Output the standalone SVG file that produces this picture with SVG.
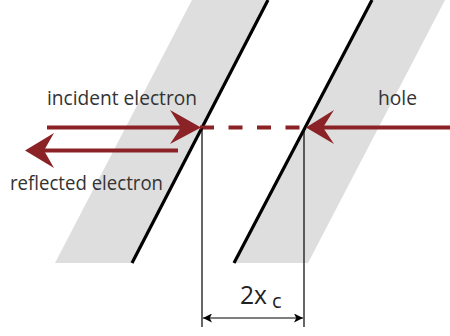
<svg xmlns="http://www.w3.org/2000/svg" width="450" height="336" viewBox="0 0 450 336">
<defs>
<style>
.band{fill:#dedede;stroke:none}
.edge{stroke:#000;stroke-width:3.2;fill:none}
.red{stroke:#8b2326;stroke-width:4;fill:none}
.head{fill:#8b2326;stroke:none}
.thin{stroke:#000;stroke-width:1.2;fill:none}
.lbl{font-family:"Open Sans","Liberation Sans",sans-serif;font-size:19.5px;fill:#333}
.dim{font-family:"Open Sans","Liberation Sans",sans-serif;fill:#222}
</style>
<marker id="dimhead" viewBox="0 0 10 10" refX="10" refY="5" markerWidth="9" markerHeight="9" markerUnits="userSpaceOnUse" orient="auto-start-reverse">
<path d="M0,0 L10,5 L0,10 L2.5,5 Z" fill="#000"/>
</marker>
</defs>
<g id="left-band">
<polygon class="band" points="192,0 268,0 132,263 55,263"/>
<line class="edge" x1="268" y1="0" x2="132" y2="263"/>
</g>
<g id="right-band">
<polygon class="band" points="372,0 445,0 308,263 234,263"/>
<line class="edge" x1="372" y1="0" x2="234" y2="263"/>
</g>
<g id="connectors">
<line class="red" x1="47" y1="127.5" x2="190" y2="127.5"/>
<path class="head" d="M201,127.5 L170,110 L181,127.5 L170,144 Z"/>
<line class="red" x1="200" y1="127.5" x2="307" y2="127.5" stroke-dasharray="14 14.5"/>
<line class="red" x1="320" y1="127.5" x2="450" y2="127.5"/>
<path class="head" d="M306,127.5 L334,110 L323,127.5 L334,144 Z"/>
<line class="red" x1="36" y1="150.5" x2="178" y2="150.5"/>
<path class="head" d="M25,150.5 L54,133 L44,150.5 L54,168 Z"/>
<line class="thin" x1="202" y1="128" x2="202" y2="327"/>
<line class="thin" x1="304" y1="128" x2="304" y2="327"/>
<line class="thin" x1="203" y1="318" x2="303" y2="318" marker-start="url(#dimhead)" marker-end="url(#dimhead)"/>
</g>
<g id="labels">
<text class="lbl" x="47" y="105" textLength="150" lengthAdjust="spacingAndGlyphs">incident electron</text>
<text class="lbl" x="378" y="105" textLength="39" lengthAdjust="spacingAndGlyphs">hole</text>
<text class="lbl" x="10" y="190" textLength="153" lengthAdjust="spacingAndGlyphs">reflected electron</text>
<text class="dim" x="240" y="304" font-size="25" textLength="27" lengthAdjust="spacingAndGlyphs">2x</text>
<text class="dim" x="272" y="308" font-size="20">c</text>
</g>
</svg>
